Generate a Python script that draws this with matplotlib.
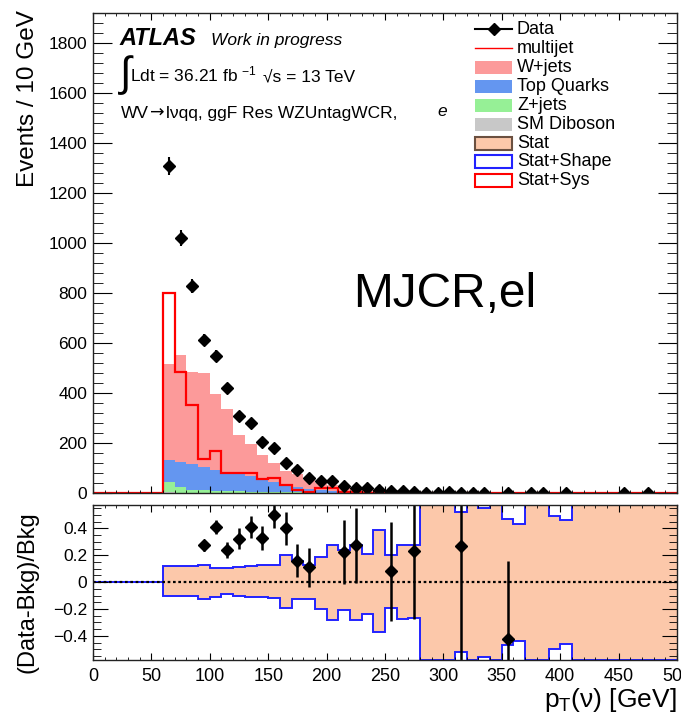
import numpy as np
import matplotlib
matplotlib.use("Agg")
import matplotlib.pyplot as plt
from matplotlib.patches import Rectangle
from matplotlib.lines import Line2D

plt.rcParams['font.family'] = ['Liberation Sans', 'DejaVu Sans']
plt.rcParams['mathtext.default'] = 'regular'

nan = np.nan

# 10 GeV bins, 0-500 GeV
bin_edges = np.arange(0, 510, 10)
bin_centres = bin_edges[:-1] + 5

data = [
    0, 0, 0, 0, 0, 0, 1310, 1020, 830, 612,
    550, 420, 310, 280, 205, 183, 123, 92, 61, 48,
    48, 28, 23, 21, 12, 9, 8, 5, 3, 3,
    4, 3, 2, 2, 0, 1, 0, 1, 1, 0,
    1, 0, 0, 0, 0, 1, 0, 1, 0, 0,
]
wjets = [
    0, 0, 0, 0, 0, 0, 384, 427, 369, 376,
    303, 254, 155, 131, 95, 77, 52, 54, 36, 28,
    23, 16, 12, 10, 8, 5.3, 3, 2.5, 0.5, 0.4,
    0.4, 0.9, 0.3, 0.3, 0.3, 0.7, 0.2, 0.1, 0.1, 0.1,
    0.1, 0.1, 0.1, 0.1, 0.1, 0.1, 0.1, 0.1, 0, 0,
]
top_quarks = [
    0, 0, 0, 0, 0, 0, 90, 100, 101, 93,
    85, 76, 71, 61, 53, 40, 32, 21, 16, 9,
    7, 5, 4.5, 3.8, 3, 2.2, 1.4, 1.0, 0.8, 0.6,
    0.5, 1.3, 0.4, 0.3, 0.2, 0.9, 0.2, 0.2, 0.2, 0.1,
    0.1, 0.1, 0.1, 0.1, 0.1, 0.1, 0.1, 0.1, 0.1, 0.1,
]
zjets = [
    0, 0, 0, 0, 0, 0, 41, 22, 12, 10,
    8, 7, 6, 5.5, 4.5, 4, 3, 3, 2.2, 2.4,
    1.5, 1.6, 1.2, 0.9, 0.8, 0.6, 0.4, 0.4, 0.1, 0.1,
    0.1, 0.1, 0.1, 0.1, 0.1, 0.1, 0.1, 0.1, 0.1, 0.1,
    0.1, 0.1, 0.1, 0, 0, 0, 0, 0, 0, 0,
]
diboson = [
    0, 0, 0, 0, 0, 0, 4, 3, 3, 2,
    2, 2, 2, 1.5, 1.5, 1, 1, 1, 0.8, 0.6,
    0.5, 0.4, 0.3, 0.3, 0.2, 0.2, 0.2, 0.1, 0.1, 0.1,
    0.1, 0.1, 0.1, 0.1, 0.1, 0.1, 0, 0, 0, 0,
    0, 0, 0, 0, 0, 0, 0, 0, 0, 0,
]
multijet = [
    0, 0, 0, 0, 0, 0, 800, 485, 352, 139,
    169, 83, 83, 83, 58, 60, 32, 12, 6, 22,
    22, 5, 4, 3, 2, 1, 1, 1, 0, 0,
    0, 0, 0, 0, 0, 0, 0, 0, 0, 0,
    0, 0, 0, 0, 0, 0, 0, 0, 0, 0,
]

# (Data-Bkg)/Bkg, nan where the point is outside the panel
ratio = [
    nan, nan, nan, nan, nan, nan, nan, nan, nan, 0.275,
    0.41, 0.24, 0.325, 0.41, 0.33, 0.50, 0.40, 0.16, 0.11, nan,
    nan, 0.225, 0.275, nan, nan, 0.08, nan, 0.235, nan, nan,
    nan, 0.27, nan, nan, nan, -0.42, nan, nan, nan, nan,
    nan, nan, nan, nan, nan, nan, nan, nan, nan, nan,
]
ratio_err = [
    0, 0, 0, 0, 0, 0, 0, 0, 0, 0.04,
    0.05, 0.06, 0.08, 0.08, 0.09, 0.10, 0.12, 0.125, 0.145, 0,
    0, 0.235, 0.28, 0, 0, 0.37, 0, 0.51, 0, 0,
    0, 1.5, 0, 0, 0, 0.58, 0, 0, 0, 0,
    0, 0, 0, 0, 0, 0, 0, 0, 0, 0,
]
# relative uncertainty band (up / down)
band_up = [
    0, 0, 0, 0, 0, 0, 0.12, 0.12, 0.12, 0.125,
    0.105, 0.105, 0.11, 0.12, 0.13, 0.13, 0.20, 0.16, 0.13, 0.19,
    0.275, 0.24, 0.275, 0.21, 0.39, 0.20, 0.275, 0.275, 5, 5,
    5, 0.525, 5, 0.555, 5, 0.47, 0.435, 5, 5, 0.495,
    0.46, 5, 5, 5, 5, 5, 5, 5, 5, 5,
]
band_dn = [
    0, 0, 0, 0, 0, 0, 0.10, 0.10, 0.10, 0.125,
    0.11, 0.09, 0.10, 0.11, 0.11, 0.12, 0.195, 0.125, 0.125, 0.20,
    0.28, 0.21, 0.28, 0.24, 0.375, 0.19, 0.275, 0.27, 5, 5,
    5, 0.52, 5, 0.555, 5, 0.465, 0.44, 5, 5, 0.495,
    0.46, 5, 5, 5, 5, 5, 5, 5, 5, 5,
]

main_yticks = [0, 200, 400, 600, 800, 1000, 1200, 1400, 1600, 1800]
ratio_yticks = [-0.4, -0.2, 0, 0.2, 0.4]
ratio_ylabels = ['\u22120.4', '\u22120.2', '0', '0.2', '0.4']
xticks = [0, 50, 100, 150, 200, 250, 300, 350, 400, 450, 500]

legend_labels = ['Data', 'multijet', 'W+jets', 'Top Quarks', 'Z+jets',
                 'SM Diboson', 'Stat', 'Stat+Shape', 'Stat+Sys']

c_wjets = '#fc9a9a'
c_top = '#6496f0'
c_zjets = '#96f096'
c_dib = '#c8c8c8'
c_stat = '#fcc8aa'
c_shape = '#2222ff'

W, H = 681, 718


def frame(x0, y0, x1, y1):
    return [x0 / W, 1 - y1 / H, (x1 - x0) / W, (y1 - y0) / H]


fig = plt.figure(figsize=(W / 100, H / 100), dpi=100)
ax = fig.add_axes(frame(93, 12.7, 677, 493.3))
rax = fig.add_axes(frame(93, 505, 677, 660))

# stacked backgrounds
base = np.zeros(len(bin_centres))
for vals, col in [(diboson, c_dib), (zjets, c_zjets), (top_quarks, c_top), (wjets, c_wjets)]:
    vals = np.asarray(vals, float)
    ax.stairs(base + vals, bin_edges, baseline=base.copy(), fill=True, color=col, lw=0)
    base = base + vals

ax.stairs(multijet, bin_edges, baseline=None, color='red', lw=1.6)

d = np.asarray(data, float)
m = d > 0
ax.errorbar(bin_centres[m], d[m], yerr=np.sqrt(d[m]), fmt='D', color='black',
            ms=6.5, lw=1.5, capsize=0)

ax.set_xlim(0, 500)
ax.set_ylim(0, 1922)
ax.set_xticks(xticks)
ax.set_xticks(np.arange(0, 501, 10), minor=True)
ax.set_yticks(main_yticks)
ax.set_yticks(np.arange(0, 1921, 40), minor=True)
ax.tick_params(which='both', direction='in', top=True, right=True, labelbottom=False)
ax.tick_params(axis='y', which='major', length=14, labelsize=12.5, pad=4)
ax.tick_params(axis='y', which='minor', length=7)
ax.tick_params(axis='x', which='major', length=5)
ax.tick_params(axis='x', which='minor', length=2.5)

# ratio panel
up = np.asarray(band_up, float)
dn = np.asarray(band_dn, float)
lo, hi = -0.58, 0.575
rax.stairs(up, bin_edges, baseline=-dn, fill=True, color=c_stat, lw=0)
rax.stairs(np.clip(up, None, hi), bin_edges, baseline=None, color=c_shape, lw=1.4)
rax.stairs(np.clip(-dn, lo, None), bin_edges, baseline=None, color=c_shape, lw=1.4)
rax.axhline(0, color='black', ls=(0, (1.2, 1.2)), lw=1.6)

r = np.asarray(ratio, float)
re = np.asarray(ratio_err, float)
rm = ~np.isnan(r)
rax.errorbar(bin_centres[rm], r[rm], yerr=re[rm], fmt='D', color='black',
             ms=6.5, lw=1.8, capsize=0)

rax.set_xlim(0, 500)
rax.set_ylim(lo, hi)
rax.set_xticks(xticks)
rax.set_xticks(np.arange(0, 501, 10), minor=True)
rax.set_yticks(ratio_yticks)
rax.set_yticklabels(ratio_ylabels)
rax.set_yticks(np.arange(-0.55, 0.56, 0.05), minor=True)
rax.tick_params(which='both', direction='in', top=True, right=True)
rax.tick_params(axis='y', which='major', length=11, labelsize=12.5, pad=4)
rax.tick_params(axis='y', which='minor', length=5.5)
rax.tick_params(axis='x', which='major', length=5, labelsize=13, pad=6)
rax.tick_params(axis='x', which='minor', length=2.5)

for a in (ax, rax):
    for s in a.spines.values():
        s.set_linewidth(1.0)
        s.set_color('#222222')

# axis titles
fig.text(28 / W, 1 - 10 / H, 'Events / 10 GeV', rotation=90, ha='center', va='top', fontsize=17.5)
fig.text(27 / W, 1 - 592 / H, '(Data-Bkg)/Bkg', rotation=90, ha='center', va='center', fontsize=17)
fig.text(677 / W, 1 - 707 / H, 'p$_{T}$(\u03bd) [GeV]', ha='right', va='baseline', fontsize=19)

# labels in the top-left corner
fig.text(119 / W, 1 - 45 / H, 'ATLAS', fontsize=17, fontweight='bold', fontstyle='italic', va='baseline')
fig.text(211 / W, 1 - 45 / H, 'Work in progress', fontsize=12.5, fontstyle='italic', va='baseline')
fig.text(120 / W, 1 - 75 / H, '\u222b', fontsize=30, va='center')
fig.text(130 / W, 1 - 81 / H, 'Ldt = 36.21 fb $^{-1}$', fontsize=12.5, va='baseline')
fig.text(263 / W, 1 - 81 / H, '\u221as = 13 TeV', fontsize=12.5, va='baseline')

# channel line: the arrow comes from DejaVu, the rest from Liberation
renderer = fig.canvas.get_renderer()
x_cur = 121
for piece, fam in [('WV', 'Liberation Sans'), ('\u2192', 'DejaVu Sans'),
                   ('l\u03bdqq, ggF Res WZUntagWCR,', 'Liberation Sans')]:
    t = fig.text(x_cur / W, 1 - 118 / H, piece, fontsize=12.5, family=fam, va='baseline')
    x_cur = t.get_window_extent(renderer).x1 + 1
fig.text(437 / W, 1 - 116 / H, 'e', fontsize=12.5, fontstyle='italic', va='baseline')

fig.text(353 / W, 1 - 307 / H, 'MJCR,el', fontsize=34.5, va='baseline')

# legend
hx0, hx1, tx = 475, 512, 517
row_y0, row_dy = 29.3, 18.95


def fy(py):
    return 1 - py / H


for i, lab in enumerate(legend_labels):
    yc = row_y0 + i * row_dy
    if lab == 'Data':
        fig.add_artist(Line2D([hx0 / W, hx1 / W], [fy(yc), fy(yc)], color='black', lw=1.5,
                              transform=fig.transFigure))
        fig.add_artist(Line2D([(hx0 + hx1) / 2 / W], [fy(yc)], marker='D', ms=6.5, color='black',
                              transform=fig.transFigure))
    elif lab == 'multijet':
        fig.add_artist(Line2D([hx0 / W, hx1 / W], [fy(yc), fy(yc)], color='red', lw=1.0,
                              transform=fig.transFigure))
    else:
        face = {'W+jets': c_wjets, 'Top Quarks': c_top, 'Z+jets': c_zjets,
                'SM Diboson': c_dib, 'Stat': c_stat}.get(lab, 'white')
        edge = {'Stat': '#6b5040', 'Stat+Shape': c_shape, 'Stat+Sys': 'red'}.get(lab, face)
        lw = 1.5 if lab.startswith('Stat') else 0
        fig.add_artist(Rectangle((hx0 / W, fy(yc + 6.5)), (hx1 - hx0) / W, 13 / H,
                                 facecolor=face, edgecolor=edge, lw=lw,
                                 transform=fig.transFigure))
    fig.text(tx / W, fy(yc), lab, fontsize=13, va='center')

fig.savefig('out.png', dpi=100)
